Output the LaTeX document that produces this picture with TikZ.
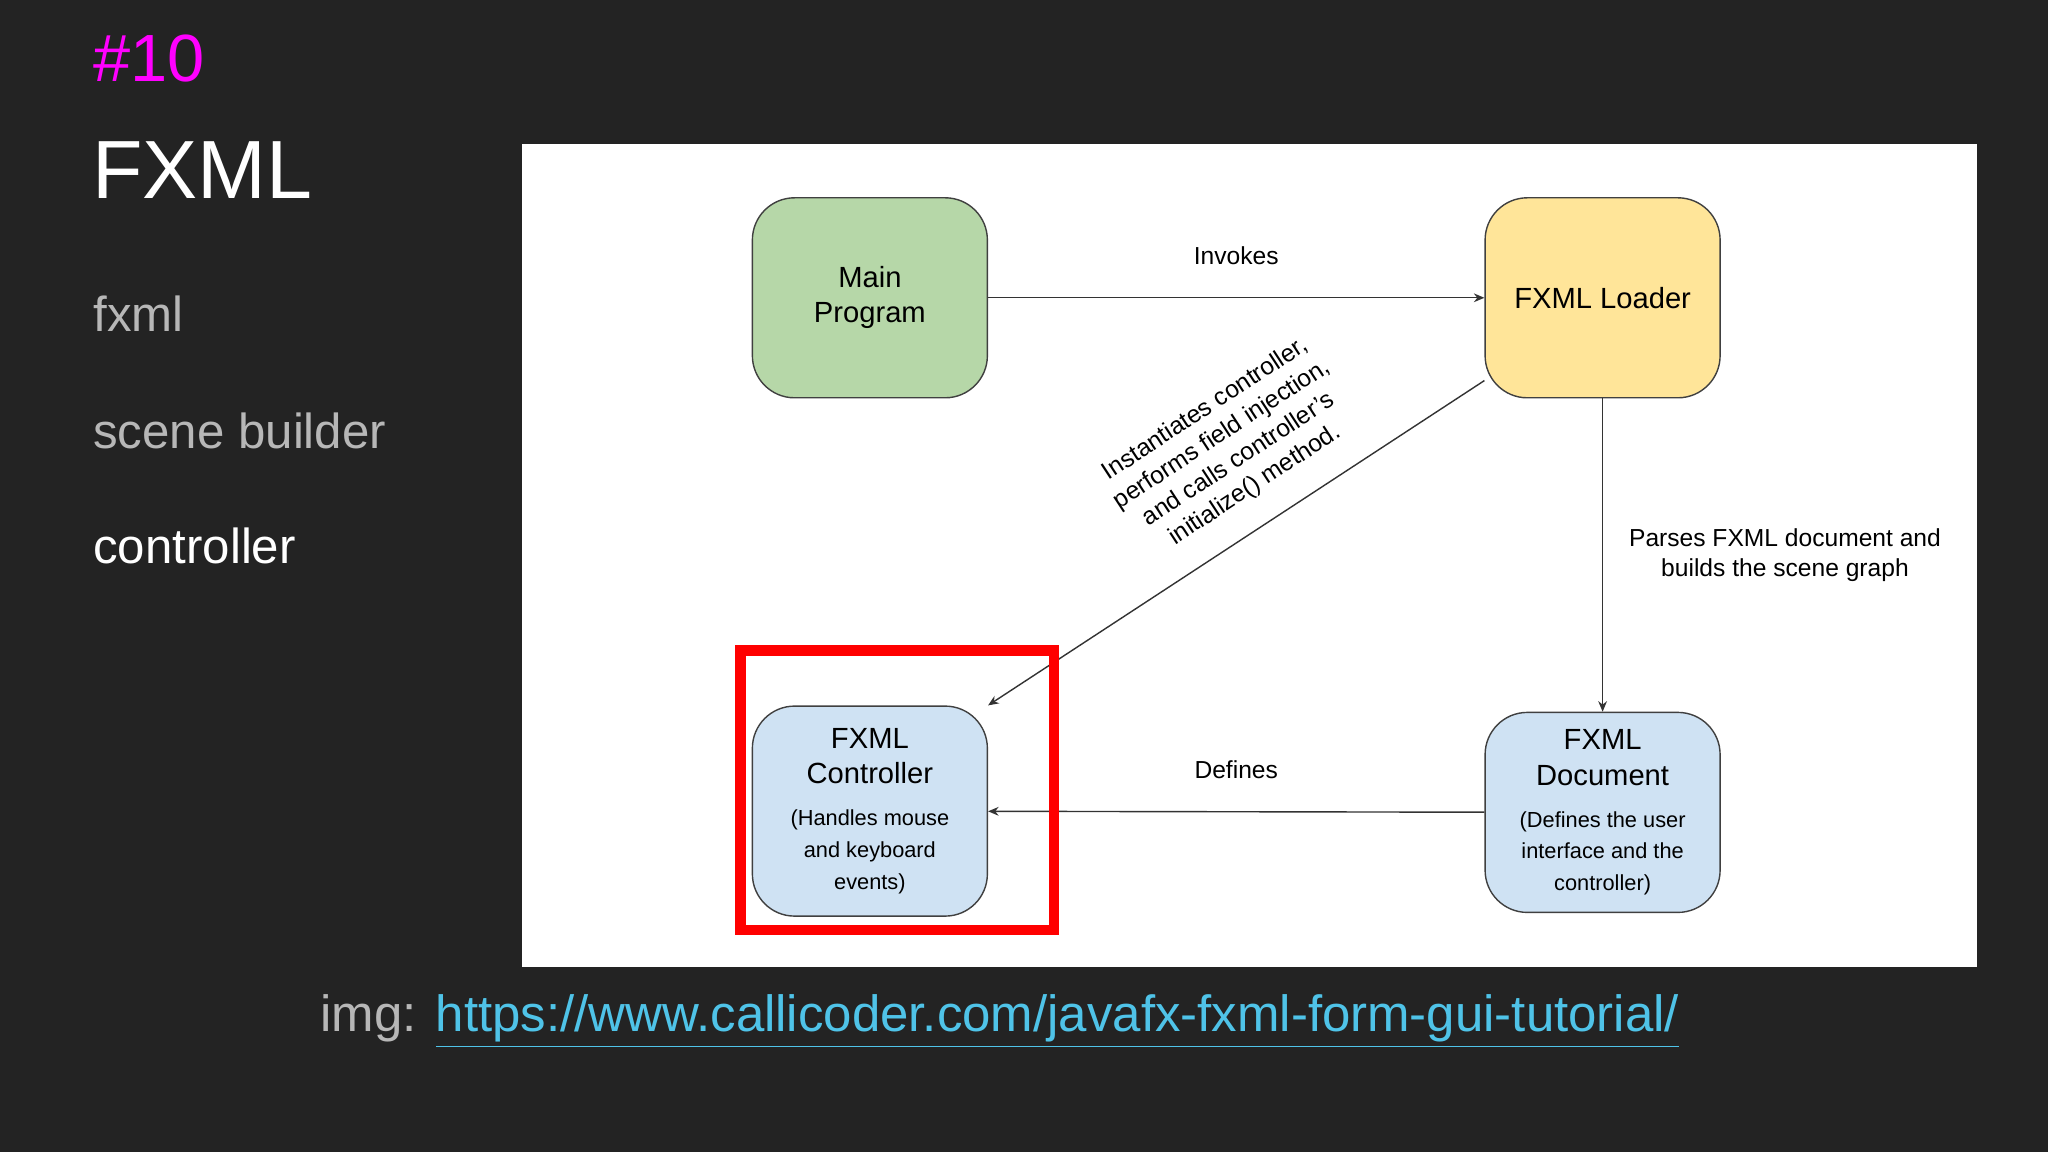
\documentclass[tikz,border=0pt]{standalone}
\usepackage{fontspec}
\setmainfont{Liberation Sans}
\usetikzlibrary{positioning,arrows.meta}
\definecolor{slidebg}{HTML}{232323}
\definecolor{hashpink}{HTML}{FF00FF}
\definecolor{mutedgray}{HTML}{B7B7B7}
\definecolor{linkcyan}{HTML}{4FC3E8}
\definecolor{boxgreen}{HTML}{B6D7A8}
\definecolor{boxyellow}{HTML}{FFE599}
\definecolor{boxblue}{HTML}{CFE2F3}
\tikzset{
  flowbox/.style={draw=black!75, rounded corners=12pt, minimum width=2.35cm,
    minimum height=2.0cm, align=center, font=\fontsize{8.3}{10}\selectfont},
  flowline/.style={-{Stealth[length=3pt,width=2.5pt]}, draw=black!80, line width=0.4pt},
  flowlabel/.style={font=\fontsize{7}{8.6}\selectfont, align=center},
  menuitem/.style={anchor=west, font=\fontsize{14}{17}\selectfont}
}
\begin{document}
\begin{tikzpicture}[x=0.01306cm, y=-0.01306cm]
  \fill[slidebg] (0,0) rectangle (1568,882);
  \useasboundingbox (0,0) rectangle (1568,882);

  % slide text
  \node[anchor=west, text=hashpink, font=\fontsize{19}{23}\selectfont] (num) at (62,45) {\#10};
  \node[anchor=west, text=white, font=\fontsize{23.5}{28}\selectfont] (title) at (61,130) {FXML};
  \node[menuitem, text=mutedgray] (fxml) at (62,240) {fxml};
  \node[menuitem, text=mutedgray] (builder) at (62,330) {scene builder};
  \node[menuitem, text=white] (ctrl) at (62,418) {controller};

  % diagram panel
  \fill[white] (400,110) rectangle (1514,740);

  \node[flowbox, fill=boxgreen] (main) at (666,228) {Main\\Program};
  \node[flowbox, fill=boxyellow] (loader) at (1227,228) {FXML Loader};
  \node[flowbox, fill=boxblue, minimum height=2.1cm] (controller) at (666,621)
    {FXML\\Controller\\[2pt]{\fontsize{6.2}{7.6}\selectfont (Handles mouse}\\[-1pt]
     {\fontsize{6.2}{7.6}\selectfont and keyboard}\\[-1pt]{\fontsize{6.2}{7.6}\selectfont events)}};
  \node[flowbox, fill=boxblue] (document) at (1227,622)
    {FXML\\Document\\[2pt]{\fontsize{6.2}{7.6}\selectfont (Defines the user}\\[-1pt]
     {\fontsize{6.2}{7.6}\selectfont interface and the}\\[-1pt]{\fontsize{6.2}{7.6}\selectfont controller)}};

  \draw[flowline] (main) -- node[flowlabel, above=6pt] {Invokes} (loader);
  \draw[flowline] (loader) -- node[flowlabel, right=4pt] {Parses FXML document and\\builds the scene graph} (document);
  \draw[flowline] (document) -- node[flowlabel, above=6pt] {Defines} (controller);
  \draw[flowline] (loader.215) -- node[flowlabel, sloped, above=4pt, pos=0.42]
    {Instantiates controller,\\performs field injection,\\and calls controller's\\initialize() method.} (controller.north east);

  % highlight
  \draw[red, line width=3pt] (567,498) rectangle (807,712);

  % credit
  \node[anchor=west, font=\fontsize{14.5}{17}\selectfont] (credit) at (236,782)
    {\textcolor{mutedgray}{img: }\textcolor{linkcyan}{\underline{https://www.callicoder.com/javafx-fxml-form-gui-tutorial/}}};
\end{tikzpicture}
\end{document}
